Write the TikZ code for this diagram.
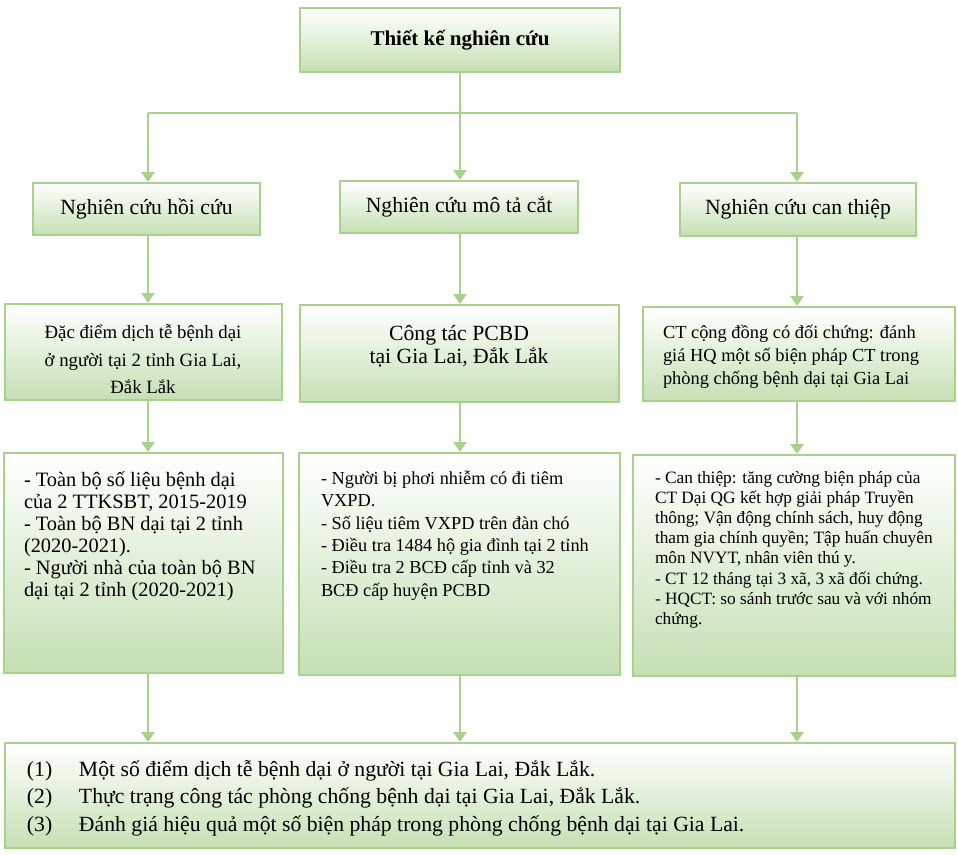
\documentclass[tikz,border=0pt]{standalone}
\usepackage{fontspec}
\setmainfont{Liberation Serif}
\usetikzlibrary{arrows.meta}
\definecolor{boxgreen}{RGB}{169,209,142}
\definecolor{fillgreen}{RGB}{197,224,180}
\tikzset{
  box/.style={draw=boxgreen, line width=2pt, top color=white, bottom color=fillgreen},
  link/.style={draw=boxgreen, line width=2.6pt},
  arr/.style={link, -{Triangle[width=13pt,length=10pt]}},
}
\newcommand{\boxbody}[3]{\parbox[c][#2][t]{#1}{#3}}
\begin{document}
\begin{tikzpicture}[x=1pt,y=-1pt]
    \useasboundingbox (0,0) rectangle (958,854);

    % Top box
    \node[box, minimum width=320pt, minimum height=64pt,
      font=\fontsize{21}{24}\selectfont\bfseries] (thietke) at (460,40) {Thiết kế nghiên cứu};

    % Study types
    \node[box, minimum width=227pt, minimum height=52pt,
      font=\fontsize{21.7}{24}\selectfont] (hoicuu) at (146.5,209) {Nghiên cứu hồi cứu};
    \node[box, minimum width=238pt, minimum height=52pt,
      font=\fontsize{21.7}{24}\selectfont] (mota) at (459,207) {Nghiên cứu mô tả cắt};
    \node[box, minimum width=236pt, minimum height=53pt,
      font=\fontsize{21.7}{24}\selectfont] (canthiep) at (798,209.5) {Nghiên cứu can thiệp};

    % Objectives
    \node[box, inner xsep=10pt, inner ysep=21pt] (dacdiem) at (143,352)
      {\boxbody{257pt}{54pt}{\centering\fontsize{18.8}{27.5}\selectfont
       Đặc điểm dịch tễ bệnh dại\\ ở người tại 2 tỉnh Gia Lai,\\ Đắk Lắk\par}};
    \node[box, inner xsep=10pt, inner ysep=20pt] (congtac) at (459,353.5)
      {\boxbody{299pt}{57pt}{\centering\fontsize{21.7}{23}\selectfont
       Công tác PCBD\\ tại Gia Lai, Đắk Lắk\par}};
    \node[box, inner xsep=20pt, inner ysep=18pt] (congdong) at (799,354)
      {\boxbody{272pt}{58pt}{\raggedright\fontsize{18.4}{23}\selectfont
       CT cộng đồng có đối chứng: đánh giá HQ một số biện pháp CT trong phòng chống bệnh dại tại Gia Lai\par}};

    % Data
    \node[box, inner xsep=20pt, inner ysep=19pt] (solieu) at (143.5,563)
      {\boxbody{239pt}{182pt}{\raggedright\fontsize{20.4}{22}\selectfont
       - Toàn bộ số liệu bệnh dại của 2 TTKSBT, 2015-2019\\
       - Toàn bộ BN dại tại 2 tỉnh (2020-2021).\\
       - Người nhà của toàn bộ BN dại tại 2 tỉnh (2020-2021)\par}};
    \node[box, inner xsep=22pt, inner ysep=18pt] (dieutra) at (459.5,564)
      {\boxbody{277pt}{186pt}{\raggedright\fontsize{18.3}{22.3}\selectfont
       - Người bị phơi nhiễm có đi tiêm VXPD.\\
       - Số liệu tiêm VXPD trên đàn chó\\
       - Điều tra 1484 hộ gia đình tại 2 tỉnh\\
       - Điều tra 2 BCĐ cấp tỉnh và 32\\ BCĐ cấp huyện PCBD\par}};
    \node[box, inner xsep=22pt, inner ysep=16pt] (bienphap) at (794,565.5)
      {\boxbody{278pt}{189pt}{\raggedright\fontsize{17.3}{20.2}\selectfont
       - Can thiệp: tăng cường biện pháp của CT Dại QG kết hợp giải pháp Truyền thông; Vận động chính sách, huy động tham gia chính quyền; Tập huấn chuyên môn NVYT, nhân viên thú y.\\
       - CT 12 tháng tại 3 xã, 3 xã đối chứng.\\
       - HQCT: so sánh trước sau và với nhóm chứng.\par}};

    % Results
    \node[box, inner xsep=22pt, inner ysep=17pt] (ketqua) at (480,795.5)
      {\boxbody{906pt}{71pt}{\fontsize{21.7}{27.5}\selectfont
       \makebox[52pt][l]{(1)}Một số điểm dịch tễ bệnh dại ở người tại Gia Lai, Đắk Lắk.\\
       \makebox[52pt][l]{(2)}Thực trạng công tác phòng chống bệnh dại tại Gia Lai, Đắk Lắk.\\
       \makebox[52pt][l]{(3)}Đánh giá hiệu quả một số biện pháp trong phòng chống bệnh dại tại Gia Lai.\par}};

    % Branching
    \coordinate (jm) at (460,113);
    \coordinate (jl) at (148,113);
    \coordinate (jr) at (797,113);
    \draw[link] (thietke.south) -- (jm);
    \draw[link] (jl) -- (jr);

    % Arrows
    \draw[arr] (jl) -- (jl |- hoicuu.north);
    \draw[arr] (jm) -- (jm |- mota.north);
    \draw[arr] (jr) -- (jr |- canthiep.north);
    \draw[arr] (jl |- hoicuu.south) -- (jl |- dacdiem.north);
    \draw[arr] (jm |- mota.south) -- (jm |- congtac.north);
    \draw[arr] (jr |- canthiep.south) -- (jr |- congdong.north);
    \draw[arr] (jl |- dacdiem.south) -- (jl |- solieu.north);
    \draw[arr] (jm |- congtac.south) -- (jm |- dieutra.north);
    \draw[arr] (jr |- congdong.south) -- (jr |- bienphap.north);
    \draw[arr] (jl |- solieu.south) -- (jl |- ketqua.north);
    \draw[arr] (jm |- dieutra.south) -- (jm |- ketqua.north);
    \draw[arr] (jr |- bienphap.south) -- (jr |- ketqua.north);

\end{tikzpicture}
\end{document}
